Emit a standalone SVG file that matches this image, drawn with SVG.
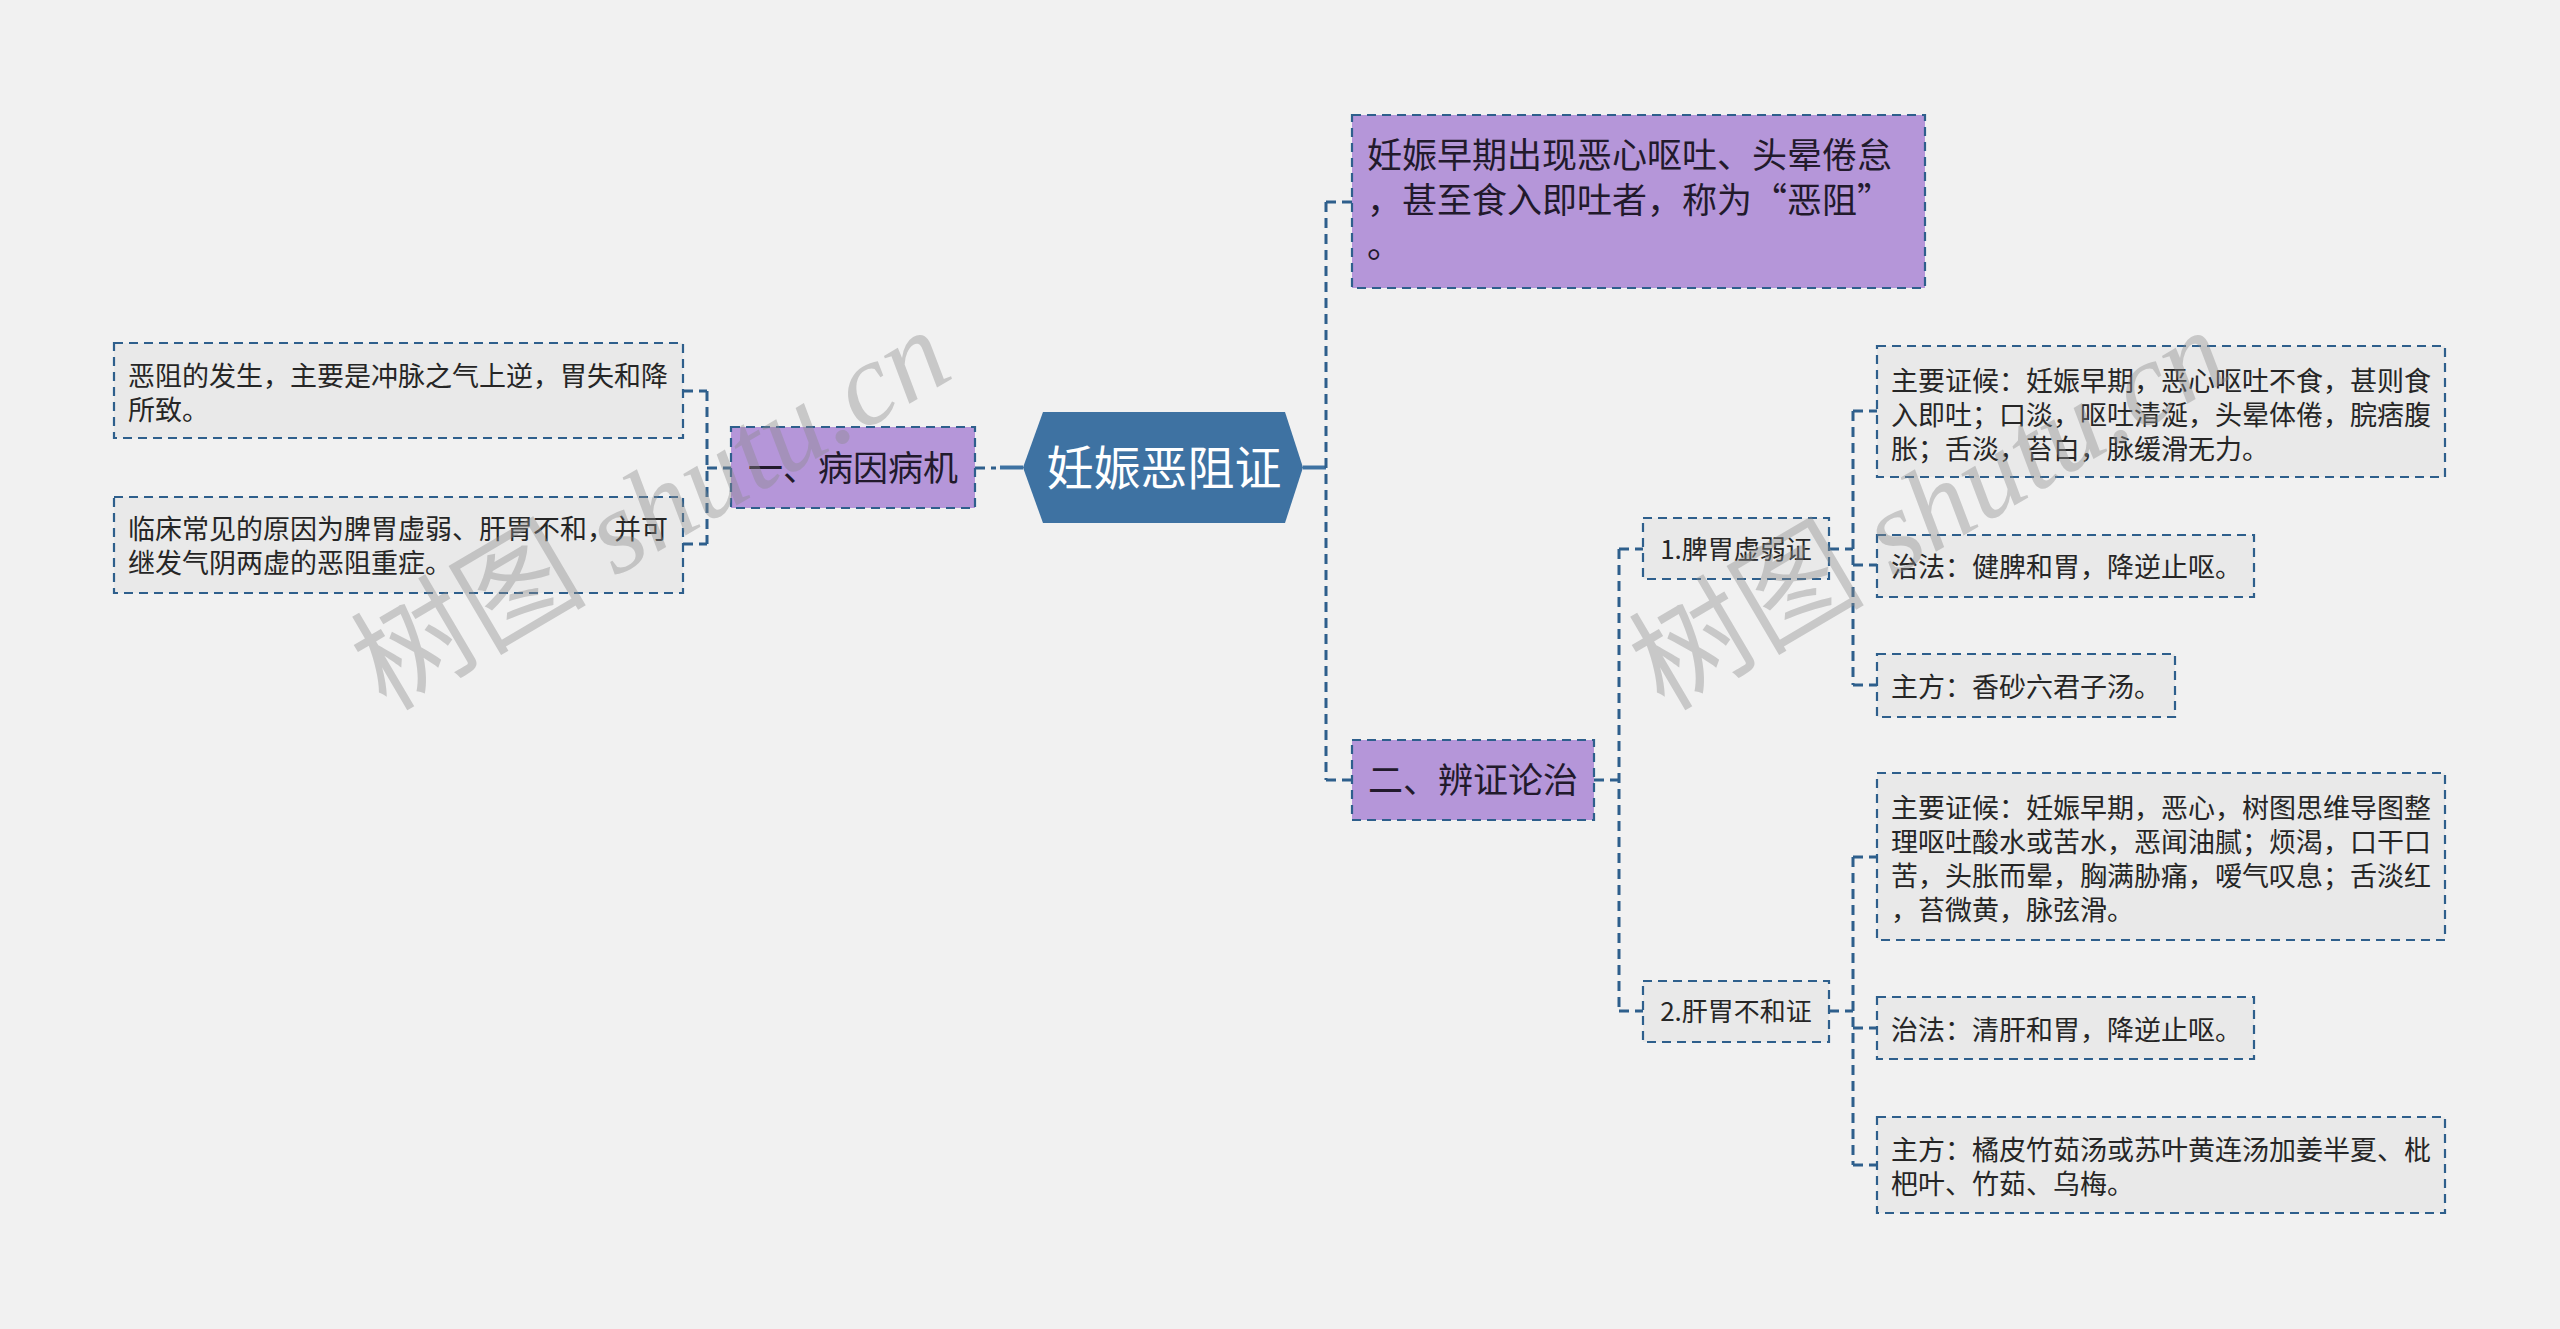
<svg xmlns="http://www.w3.org/2000/svg" width="2560" height="1329" viewBox="0 0 2560 1329">
<style>
.bg{fill:#f1f1f1}
.leaf{fill:#e9e9e9;stroke:#2e5f8c;stroke-width:2.2;stroke-dasharray:9 6}
.l1{fill:#b596d9;stroke:#2e5f8c;stroke-width:2.2;stroke-dasharray:9 6}
.hex{fill:#3e72a2}
.c{fill:none;stroke:#2e5f8c;stroke-width:3;stroke-dasharray:10 6}
.cs{fill:none;stroke:#3e72a2;stroke-width:4}
.t{font-family:"Noto Sans CJK SC","Noto Sans",sans-serif;fill:#262626}
.t27{font-size:27px}
.t26{font-size:26px}
.t35{font-size:35px;fill:#221a2c}
.tc{font-size:47px;fill:#ffffff}
.wm{fill:#8c8c8c;opacity:0.4;font-size:118px}
</style>
<rect class="bg" x="0" y="0" width="2560" height="1329"/>

<g id="connectors">
  <line class="cs" x1="1303" y1="467.5" x2="1326" y2="467.5"/>
  <line class="cs" x1="1000" y1="467.5" x2="1023" y2="467.5"/>
  <path class="c" d="M1326 202 V780 M1326 202 H1352 M1326 780 H1352"/>
  <path class="c" d="M975 468 H996"/>
  <path class="c" d="M707 391 V544 M683 391 H707 M683 544 H707 M707 468 H731"/>
  <path class="c" d="M1594 780 H1619 M1619 549 V1011 M1619 549 H1643 M1619 1011 H1643"/>
  <path class="c" d="M1829 549 H1853 M1853 411 V685 M1853 411 H1877 M1853 565 H1877 M1853 685 H1877"/>
  <path class="c" d="M1829 1011 H1853 M1853 857 V1165 M1853 857 H1877 M1853 1028 H1877 M1853 1165 H1877"/>
</g>

<g id="root">
  <polygon class="hex" points="1023,467.5 1043,412 1285,412 1303,467.5 1285,523 1043,523"/>
  <text class="t tc" x="1164" y="485" text-anchor="middle">妊娠恶阻证</text>
</g>

<g id="n-cause">
  <rect class="l1" x="731" y="427" width="244" height="81"/>
  <text class="t t35" x="853" y="481" text-anchor="middle">一、病因病机</text>
</g>
<g id="n-cause-1">
  <rect class="leaf" x="114" y="343" width="569" height="95"/>
  <text class="t t27"><tspan x="128" y="386">恶阻的发生，主要是冲脉之气上逆，胃失和降</tspan><tspan x="128" y="420">所致。</tspan></text>
</g>
<g id="n-cause-2">
  <rect class="leaf" x="114" y="497" width="569" height="96"/>
  <text class="t t27"><tspan x="128" y="539">临床常见的原因为脾胃虚弱、肝胃不和，并可</tspan><tspan x="128" y="573">继发气阴两虚的恶阻重症。</tspan></text>
</g>

<g id="n-def">
  <rect class="l1" x="1352" y="115" width="573" height="173"/>
  <text class="t t35"><tspan x="1367" y="168">妊娠早期出现恶心呕吐、头晕倦怠</tspan><tspan x="1367" y="213">，甚至食入即吐者，称为“恶阻”</tspan><tspan x="1367" y="258">。</tspan></text>
</g>

<g id="n-treat">
  <rect class="l1" x="1352" y="740" width="242" height="80"/>
  <text class="t t35" x="1473" y="793" text-anchor="middle">二、辨证论治</text>
</g>

<g id="n-spleen">
  <rect class="leaf" x="1643" y="518" width="186" height="61"/>
  <text class="t t26" x="1736" y="559" text-anchor="middle">1.脾胃虚弱证</text>
</g>
<g id="n-spleen-a">
  <rect class="leaf" x="1877" y="346" width="568" height="131"/>
  <text class="t t27"><tspan x="1891" y="391">主要证候：妊娠早期，恶心呕吐不食，甚则食</tspan><tspan x="1891" y="425">入即吐；口淡，呕吐清涎，头晕体倦，脘痞腹</tspan><tspan x="1891" y="459">胀；舌淡，苔白，脉缓滑无力。</tspan></text>
</g>
<g id="n-spleen-b">
  <rect class="leaf" x="1877" y="535" width="377" height="62"/>
  <text class="t t27" x="1891" y="577">治法：健脾和胃，降逆止呕。</text>
</g>
<g id="n-spleen-c">
  <rect class="leaf" x="1877" y="654" width="298" height="63"/>
  <text class="t t27" x="1891" y="697">主方：香砂六君子汤。</text>
</g>

<g id="n-liver">
  <rect class="leaf" x="1643" y="981" width="186" height="61"/>
  <text class="t t26" x="1736" y="1021" text-anchor="middle">2.肝胃不和证</text>
</g>
<g id="n-liver-a">
  <rect class="leaf" x="1877" y="773" width="568" height="167"/>
  <text class="t t27"><tspan x="1891" y="818">主要证候：妊娠早期，恶心，树图思维导图整</tspan><tspan x="1891" y="852">理呕吐酸水或苦水，恶闻油腻；烦渴，口干口</tspan><tspan x="1891" y="886">苦，头胀而晕，胸满胁痛，嗳气叹息；舌淡红</tspan><tspan x="1891" y="920">，苔微黄，脉弦滑。</tspan></text>
</g>
<g id="n-liver-b">
  <rect class="leaf" x="1877" y="997" width="377" height="62"/>
  <text class="t t27" x="1891" y="1040">治法：清肝和胃，降逆止呕。</text>
</g>
<g id="n-liver-c">
  <rect class="leaf" x="1877" y="1117" width="568" height="96"/>
  <text class="t t27"><tspan x="1891" y="1160">主方：橘皮竹茹汤或苏叶黄连汤加姜半夏、枇</tspan><tspan x="1891" y="1194">杷叶、竹茹、乌梅。</tspan></text>
</g>

<g id="watermarks">
  <text class="wm" transform="translate(386,712) rotate(-30.5)"><tspan style="font-family:'Noto Sans CJK SC',sans-serif">树图</tspan><tspan style="font-family:'Liberation Serif',serif;font-style:italic"> shutu.cn</tspan></text>
  <text class="wm" transform="translate(1664,712) rotate(-30.5)"><tspan style="font-family:'Noto Sans CJK SC',sans-serif">树图</tspan><tspan style="font-family:'Liberation Serif',serif;font-style:italic"> shutu.cn</tspan></text>
</g>
</svg>
